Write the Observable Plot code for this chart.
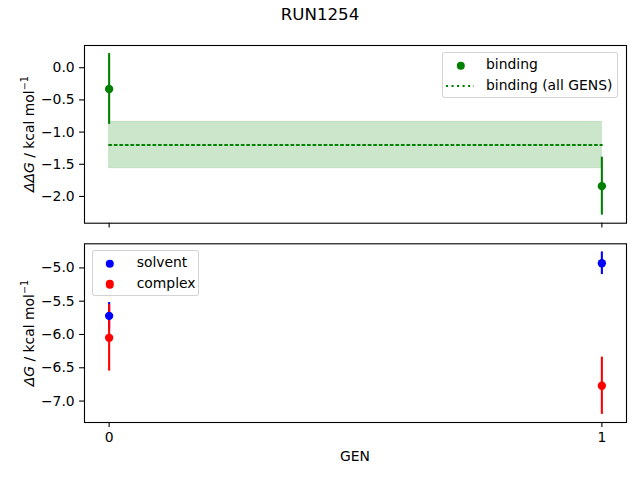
<!DOCTYPE html>
<html>
<head>
<meta charset="utf-8">
<script src="https://cdn.jsdelivr.net/npm/d3@7"></script>
<script src="https://cdn.jsdelivr.net/npm/@observablehq/plot@0.6"></script>
<style>
  html, body { margin: 0; padding: 0; background: white; }
  #fig { position: relative; width: 640px; height: 480px; font-family: "DejaVu Sans", sans-serif; color: black; overflow: hidden; }
  .abs { position: absolute; line-height: 1; white-space: nowrap; }
  .abs svg { display: block; }
  .ylab { position: absolute; font-size: 13.9px; line-height: 1; white-space: nowrap; transform: translate(-50%, -50%) rotate(-90deg); }
  .ylab .sup { font-size: 9.7px; position: relative; top: -6px; }
  .legend { position: absolute; box-sizing: border-box; border: 1.2px solid rgba(204,204,204,0.85); border-radius: 3px; background: rgba(255,255,255,0.8); }
  .lt { position: absolute; font-size: 13.9px; line-height: 1; white-space: nowrap; }
  .mk { position: absolute; width: 8.4px; height: 8.4px; border-radius: 50%; transform: translate(-50%, -50%); }
</style>
</head>
<body>
<div id="fig"></div>
<script>
// ---- data ----
const title = "RUN1254";
const gens = [0, 1];
const bindingVals = [-0.33, -1.84];
const bindingErr = [0.55, 0.45];
const bindingAll = -1.20;
const bindingAllErr = 0.36;
const solventVals = [-5.72, -4.93];
const solventErr = [0.20, 0.17];
const complexVals = [-6.05, -6.77];
const complexErr = [0.50, 0.43];
const topTicks = [0.0, -0.5, -1.0, -1.5, -2.0];
const bottomTicks = [-5.0, -5.5, -6.0, -6.5, -7.0];
const xTicks = [0, 1];

const fig = document.getElementById("fig");
const rows = (vals, errs) => gens.map((g, i) => ({gen: g, v: vals[i], lo: vals[i] - errs[i], hi: vals[i] + errs[i]}));
const binding = rows(bindingVals, bindingErr);
const solvent = rows(solventVals, solventErr);
const complex = rows(complexVals, complexErr);
const band = [{x1: gens[0], x2: gens[gens.length - 1], y1: bindingAll - bindingAllErr, y2: bindingAll + bindingAllErr}];
const allLine = gens.map(g => ({gen: g, v: bindingAll}));

const style = {fontFamily: "DejaVu Sans", fontSize: "13.9px", color: "black", background: "transparent", overflow: "visible"};
const lw = 2.08;
const ms = 4.17;
const xdom = [-0.05, 1.05];

function pad(lo, hi) { const r = hi - lo; return [lo - 0.05 * r, hi + 0.05 * r]; }
const topDom = pad(Math.min(...binding.map(d => d.lo)), Math.max(...binding.map(d => d.hi)));
const allB = solvent.concat(complex);
const botDom = pad(Math.min(...allB.map(d => d.lo)), Math.max(...allB.map(d => d.hi)));

const topPlot = Plot.plot({
  width: 640, height: 240,
  marginTop: 45, marginBottom: 17.3, marginLeft: 84, marginRight: 14,
  x: {domain: xdom}, y: {domain: topDom},
  style,
  marks: [
    Plot.rect(band, {x1: "x1", x2: "x2", y1: "y1", y2: "y2", fill: "green", fillOpacity: 0.2, stroke: "green", strokeOpacity: 0.15}),
    Plot.line(allLine, {x: "gen", y: "v", stroke: "green", strokeWidth: lw, strokeDasharray: "2.08,3.44"}),
    Plot.ruleX(binding, {x: "gen", y1: "lo", y2: "hi", stroke: "green", strokeWidth: lw}),
    Plot.dot(binding, {x: "gen", y: "v", r: ms, fill: "green"}),
    Plot.frame({stroke: "black", strokeWidth: 1.1}),
    Plot.axisY({ticks: topTicks, tickFormat: d3.format(".1f"), tickSize: 4.9, tickPadding: 4.9, label: null, strokeWidth: 1.1}),
    Plot.axisX({ticks: xTicks, tickFormat: () => "", tickSize: 4.9, label: null, strokeWidth: 1.1})
  ]
});

const botPlot = Plot.plot({
  width: 640, height: 240,
  marginTop: 3.3, marginBottom: 58, marginLeft: 84, marginRight: 14,
  x: {domain: xdom}, y: {domain: botDom},
  style,
  marks: [
    Plot.ruleX(solvent, {x: "gen", y1: "lo", y2: "hi", stroke: "blue", strokeWidth: lw}),
    Plot.ruleX(complex, {x: "gen", y1: "lo", y2: "hi", stroke: "red", strokeWidth: lw}),
    Plot.dot(solvent, {x: "gen", y: "v", r: ms, fill: "blue"}),
    Plot.dot(complex, {x: "gen", y: "v", r: ms, fill: "red"}),
    Plot.frame({stroke: "black", strokeWidth: 1.1}),
    Plot.axisY({ticks: bottomTicks, tickFormat: d3.format(".1f"), tickSize: 4.9, tickPadding: 4.9, label: null, strokeWidth: 1.1}),
    Plot.axisX({ticks: xTicks, tickFormat: d => String(d), tickSize: 4.9, tickPadding: 4.9, label: null, strokeWidth: 1.1})
  ]
});

function place(el, left, top) { el.style.position = "absolute"; el.style.left = left + "px"; el.style.top = top + "px"; fig.appendChild(el); return el; }
place(topPlot, 0, 0);
place(botPlot, 0, 240);

function html(cls, h, css) { const d = document.createElement("div"); d.className = cls; d.innerHTML = h; Object.assign(d.style, css); fig.appendChild(d); return d; }

// title
html("abs", title, {left: "320px", top: "6.9px", fontSize: "16.67px", transform: "translateX(-50%)"});
// x label
html("abs", "GEN", {left: "355px", top: "450.2px", fontSize: "13.9px", transform: "translateX(-50%)"});
// y labels
html("ylab", "<i>ΔΔG</i> / kcal mol<span class='sup'>−1</span>", {left: "30px", top: "133.9px"});
html("ylab", "<i>ΔG</i> / kcal mol<span class='sup'>−1</span>", {left: "30px", top: "332.7px"});

// legends
html("legend", "", {left: "442.3px", top: "52.3px", width: "175.7px", height: "45.7px"});
html("mk", "", {left: "461px", top: "65.7px", background: "green"});
html("lt", "binding", {left: "486px", top: (70 - 11.8) + "px"});
html("abs", "<svg width='28' height='4'><line x1='0' y1='2' x2='28' y2='2' stroke='green' stroke-width='2.08' stroke-dasharray='2.08,3.44'/></svg>", {left: "446px", top: "84.3px"});
html("lt", "binding (all GENS)", {left: "486px", top: (90.6 - 11.8) + "px"});

html("legend", "", {left: "91.7px", top: "250.3px", width: "107.3px", height: "45.4px"});
html("mk", "", {left: "110px", top: "263.7px", background: "blue"});
html("lt", "solvent", {left: "136.7px", top: (268 - 11.8) + "px"});
html("mk", "", {left: "110px", top: "284.3px", background: "red"});
html("lt", "complex", {left: "136.7px", top: (288.6 - 11.8) + "px"});
</script>
</body>
</html>
